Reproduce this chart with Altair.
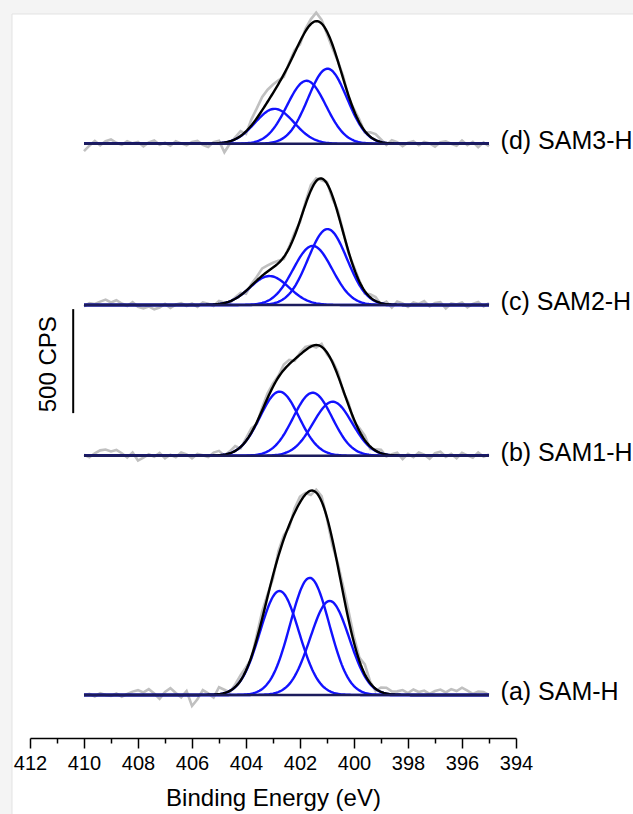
import altair as alt
import numpy as np
import pandas as pd

# ---------------- data ----------------
samples = ["(a) SAM-H", "(b) SAM1-H", "(c) SAM2-H", "(d) SAM3-H"]
offsets = [0, 1150, 1875, 2650]  # vertical stacking offsets (CPS)

# fitted component peaks: centre (eV), height (CPS), FWHM (eV)
centers = [
    [402.76, 401.64, 400.90],
    [402.76, 401.53, 400.79],
    [403.13, 401.53, 400.98],
    [402.94, 401.76, 400.98],
]
heights = [
    [500, 563, 452],
    [308, 303, 260],
    [139, 284, 365],
    [168, 303, 361],
]
fwhms = [
    [1.7, 1.7, 1.7],
    [1.7, 1.7, 1.7],
    [1.7, 1.7, 1.7],
    [1.7, 1.7, 1.7],
]

# raw-spectrum residuals (CPS) at 410.0, 409.8, ..., 395.0 eV
raw_start, raw_step = 410.0, 0.2
noise = [
    [0, 5, -7, 9, 0, -5, 7, -9, 5, 16,
     23, 12, 28, 7, -19, 14, 33, 9, -12, 19,
     -53, -21, 23, 7, -14, 33, 16, -7, 12, 26,
     16, -9, 21, 35, 12, -16, 23, 19, -12, 21,
     28, 7, -21, 14, 26, -7, -28, 14, 35, 42,
     28, 16, 47, 7, -12, 21, 28, 14, 16, 23,
     9, 26, 14, 21, 5, 19, 26, 12, 28, 19, 35, 21, 5, 16, 14, 0],
    [5, -7, 12, 26, 30, 21, 28, 12, -9, 16,
     -23, -9, 7, -5, 14, -12, 5, -7, 16, 7,
     -12, 9, 2, -7, 14, 21, -5, 9, 23, -7,
     12, 21, -9, 14, 23, 16, 7, 26, 21, -7,
     9, 16, 5, -12, 14, -9, 7, 16, -7, 12,
     -14, 14, 21, -12, 7, 16, -9, 5, 14, -16,
     9, -7, 16, 5, -14, 12, 19, -5, 9, -12, 14, 2, -9, 16, -5, 7],
    [-7, 9, 5, 16, 26, 12, 23, 7, -5, 14,
     -9, -16, -7, -21, -12, 5, -14, 2, 9, -5,
     7, -9, 12, 5, -7, 14, 2, -9, 7, 12,
     -14, 9, 18, 35, 29, 23, 12, -9, 7, 14,
     -7, 12, 26, 14, -9, 7, -14, 12, 5, -7,
     9, 5, -12, 14, 19, -7, 12, -14, 16, 7,
     -9, 12, 5, 19, -7, 9, 14, -16, 7, 2, 12, -12, 5, 14, -7, 9],
    [-35, -9, 14, -7, 12, 21, 5, -5, 12, 2,
     9, -12, 7, 16, -5, 5, -9, 12, 2, -7,
     9, 14, -5, -16, 7, 12, -47, -12, 9, 23,
     -12, 29, 47, 64, 58, 41, 18, -12, 6, 12,
     -14, 12, 23, 41, 18, -12, -18, 0, 12, -9,
     7, 14, -7, 21, 29, 12, -9, 16, 7, -12,
     5, 12, -7, 9, 2, -14, 7, 12, 0, -9, 16, -7, 9, -16, 7, -12],
]

x_ticks = [412, 410, 408, 406, 404, 402, 400, 398, 396, 394]
x_minor = [411, 409, 407, 405, 403, 401, 399, 397, 395]
scale_bar = {"x": 410.4, "y0": 1355, "cps": 500, "label": "500 CPS",
             "label_x": 411.3, "label_y": 1590}
label_x = 394.57

# ---------------- build tables ----------------
fine = np.round(np.arange(410.0, 394.999, -0.05), 3)


def gauss(e, c, h, w):
    return h * np.exp(-4 * np.log(2) * ((e - c) / w) ** 2)


comp_rows, env_rows, raw_rows, base_rows = [], [], [], []
for s, name in enumerate(samples):
    env = np.zeros_like(fine)
    for k in range(3):
        g = gauss(fine, centers[s][k], heights[s][k], fwhms[s][k])
        env += g
        for e, v in zip(fine, g):
            comp_rows.append({"E": e, "I": offsets[s] + v, "key": f"{s}-{k}"})
    for e, v in zip(fine, env):
        env_rows.append({"E": e, "I": offsets[s] + v, "key": str(s)})
    for i, n in enumerate(noise[s]):
        e = round(raw_start - raw_step * i, 3)
        ev = sum(gauss(e, centers[s][k], heights[s][k], fwhms[s][k]) for k in range(3))
        raw_rows.append({"E": e, "I": offsets[s] + ev + n, "key": str(s)})
    base_rows.append({"E": 410.0, "I": offsets[s], "key": str(s)})
    base_rows.append({"E": 395.0, "I": offsets[s], "key": str(s)})

comp_df = pd.DataFrame(comp_rows)
env_df = pd.DataFrame(env_rows)
raw_df = pd.DataFrame(raw_rows)
base_df = pd.DataFrame(base_rows)
lab_df = pd.DataFrame({"E": [label_x] * 4, "I": [o + 14 for o in offsets], "t": samples})
bar_df = pd.DataFrame({"E": [scale_bar["x"]], "y0": [scale_bar["y0"]],
                       "y1": [scale_bar["y0"] + scale_bar["cps"]]})
bar_lab = pd.DataFrame({"E": [scale_bar["label_x"]],
                        "I": [scale_bar["label_y"]],
                        "t": [scale_bar["label"]]})

FONT = "Liberation Sans"
xs = alt.Scale(domain=[412, 394], nice=False, zero=False)
ys = alt.Scale(domain=[-207, 3274], nice=False, zero=False)

x_main = alt.X("E:Q", scale=xs, axis=alt.Axis(
    values=x_ticks, format="d", title="Binding Energy (eV)", orient="bottom",
    grid=False, domainColor="black", domainWidth=1.5, tickColor="black",
    tickWidth=1.5, tickSize=10, labelFontSize=20, labelFont=FONT,
    labelColor="black", labelPadding=5, titleFont=FONT, titleFontSize=24,
    titleFontWeight="normal", titleColor="black", titlePadding=13,
    labelFlush=False, zindex=2))
x_minor_enc = alt.X("E:Q", scale=xs, axis=alt.Axis(
    values=x_minor, orient="bottom", labels=False, domain=False, grid=False,
    tickColor="black", tickWidth=1.5, tickSize=5, title=None, zindex=2))
x_plain = alt.X("E:Q", scale=xs, axis=None)
y_plain = alt.Y("I:Q", scale=ys, axis=None)

panel = alt.Chart(pd.DataFrame({"a": [0]})).mark_rect(
    fill="white", stroke="#e3e3e3", strokeWidth=1, clip=False
).encode(x=alt.value(-18), x2=alt.value(640), y=alt.value(0), y2=alt.value(820))

LW = 2.4
raw = alt.Chart(raw_df).mark_line(color="#c0c0c0", strokeWidth=2.6).encode(
    x=x_main, y=y_plain, detail="key:N")
comps = alt.Chart(comp_df).mark_line(color="#1212ff", strokeWidth=LW).encode(
    x=x_minor_enc, y=y_plain, detail="key:N")
envl = alt.Chart(env_df).mark_line(color="black", strokeWidth=LW).encode(
    x=x_plain, y=y_plain, detail="key:N")
base = alt.Chart(base_df).mark_line(color="#1c1c5c", strokeWidth=LW).encode(
    x=x_plain, y=y_plain, detail="key:N")
bar = alt.Chart(bar_df).mark_rule(color="black", strokeWidth=2).encode(
    x=x_plain, y=alt.Y("y0:Q", scale=ys, axis=None), y2="y1:Q")
bar_t = alt.Chart(bar_lab).mark_text(
    angle=270, fontSize=24, font=FONT, color="black", align="center",
    baseline="middle").encode(x=x_plain, y=y_plain, text="t:N")
labels = alt.Chart(lab_df).mark_text(
    align="left", baseline="middle", fontSize=25, font=FONT, color="black"
).encode(x=x_plain, y=y_plain, text="t:N")

chart = alt.layer(panel, raw, comps, envl, base, bar, bar_t, labels).resolve_axis(
    x="independent"
).properties(
    width=486, height=724,
    padding={"left": 30, "top": 14, "right": 117, "bottom": 76},
    autosize=alt.AutoSizeParams(type="none"),
    background="#f4f4f4",
).configure_view(stroke=None)

chart.save("out.html", embed_options={"renderer": "svg", "actions": False})
